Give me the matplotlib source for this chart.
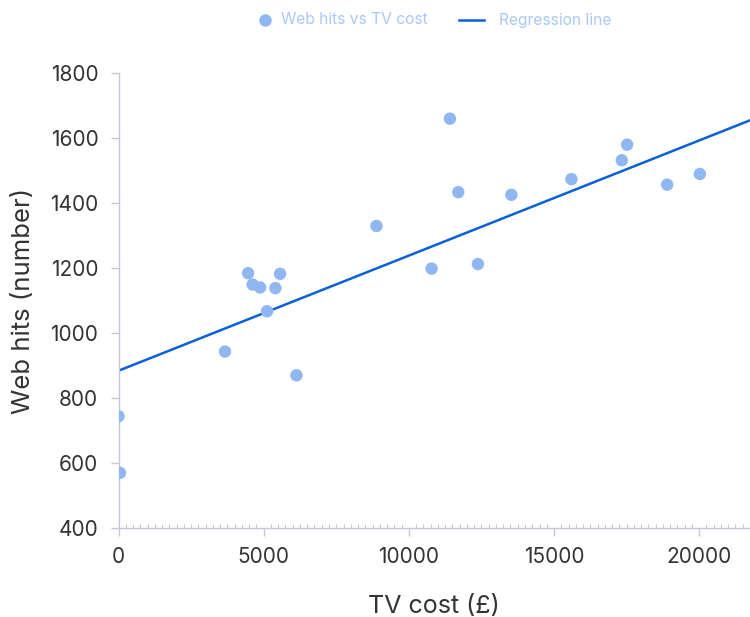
import matplotlib
matplotlib.use("Agg")
import matplotlib.pyplot as plt
import numpy as np
from matplotlib.ticker import MultipleLocator
from matplotlib.lines import Line2D

tv_cost = [0, 48, 3669, 4462, 4621, 4876, 5117, 5403, 5566, 6128, 8886,
           10783, 11414, 11703, 12379, 13531, 15600, 17334, 17517, 18897, 20024]
web_hits = [744, 570, 943, 1184, 1149, 1140, 1067, 1138, 1182, 870, 1329,
            1198, 1659, 1433, 1212, 1425, 1473, 1531, 1579, 1456, 1489]
reg_intercept = 884
reg_slope = 0.0354
x_ticks = [0, 5000, 10000, 15000, 20000]
y_ticks = [400, 600, 800, 1000, 1200, 1400, 1600, 1800]
legend_labels = ['Web hits vs TV cost', 'Regression line']

plt.rcParams['font.family'] = ['Inter', 'DejaVu Sans']

W, H = 750, 617
fig = plt.figure(figsize=(7.5, 6.17), dpi=100)
ax = fig.add_axes([0.158, 0.144, 0.842, 0.738])

axis_col = '#c5c9d3'
pt_col = '#8fb8f2'
line_col = '#0b5fd9'
txt_col = '#333333'
leg_col = '#a9c8f6'

xmax = 21750
ax.scatter(tv_cost, web_hits, s=80, color=pt_col, edgecolors='none', zorder=3)
xs = np.array([0, xmax])
ax.plot(xs, reg_intercept + reg_slope * xs, color=line_col, lw=1.8, zorder=2)

ax.set_xlim(0, xmax)
ax.set_ylim(400, 1800)
ax.set_xticks(x_ticks)
ax.set_yticks(y_ticks)
ax.xaxis.set_minor_locator(MultipleLocator(250))

for s in ['top', 'right']:
    ax.spines[s].set_visible(False)
for s in ['left', 'bottom']:
    ax.spines[s].set_color(axis_col)
    ax.spines[s].set_linewidth(1.0)

ax.tick_params(axis='both', which='major', color=axis_col, length=5.5, width=1,
               labelsize=15, labelcolor=txt_col)
ax.tick_params(axis='y', which='major', pad=9)
ax.tick_params(axis='x', which='major', pad=8)
ax.tick_params(axis='x', which='minor', direction='in', length=3, width=0.8, color=axis_col)

ax.set_xlabel('TV cost (£)', fontsize=18, color=txt_col, labelpad=20)
ax.set_ylabel('Web hits (number)', fontsize=18.5, color=txt_col, labelpad=11)

# manual legend (figure pixel coords -> fraction)
def fx(px):
    return px / W

def fy(py):
    return 1 - py / H

ly = 20
fig.add_artist(Line2D([fx(265)], [fy(ly)], marker='o', linestyle='none', markersize=9,
                      markerfacecolor=pt_col, markeredgecolor='none'))
fig.text(fx(281), fy(ly), legend_labels[0], color=leg_col, fontsize=11.2,
         ha='left', va='center')
fig.add_artist(Line2D([fx(459), fx(484)], [fy(ly), fy(ly)], color=line_col, lw=1.8))
fig.text(fx(499), fy(ly), legend_labels[1], color=leg_col, fontsize=11.2,
         ha='left', va='center')

fig.savefig('out.png', dpi=100)
